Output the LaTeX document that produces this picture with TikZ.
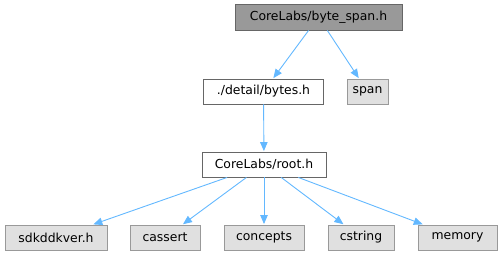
\documentclass[tikz,border=0pt]{standalone}
\usepackage{fontspec}
\setmainfont{DejaVu Sans}
\usetikzlibrary{arrows.meta}
\definecolor{edgeblue}{HTML}{63B8FF}
\definecolor{rootfill}{HTML}{999999}
\definecolor{boxborder}{HTML}{666666}
\definecolor{extfill}{HTML}{E0E0E0}
\definecolor{extborder}{HTML}{999999}
\tikzset{
  filebox/.style={draw=boxborder, line width=0.9pt, fill=white, inner sep=0pt,
    minimum height=25pt, font=\fontsize{12.4}{14}\selectfont, anchor=center},
  rootbox/.style={filebox, fill=rootfill},
  extbox/.style={filebox, draw=extborder, fill=extfill},
  incl/.style={draw=edgeblue, line width=0.9pt,
    -{Triangle[length=9pt,width=7.5pt]}, shorten >=0.5pt}
}
\begin{document}
\begin{tikzpicture}[x=1pt,y=-1pt]
  \useasboundingbox (0,0) rectangle (501,256);
  % top: the file whose includes are shown
  \node[rootbox, minimum width=167pt, minimum height=26pt] (bs) at (318.5,17) {CoreLabs/byte\_span.h};
  % second row
  \node[filebox, minimum width=120pt] (bytes) at (263.5,91.5) {./detail/bytes.h};
  \node[extbox, minimum width=41pt] (span) at (367.5,91.5) {span};
  % third row
  \node[filebox, minimum width=124pt] (root) at (264,164.5) {CoreLabs/root.h};
  % system headers
  \node[extbox, minimum width=102pt] (sdk) at (56,237.5) {sdkddkver.h};
  \node[extbox, minimum width=70pt] (cassert) at (165,237.5) {cassert};
  \node[extbox, minimum width=80pt] (concepts) at (264,237.5) {concepts};
  \node[extbox, minimum width=66pt] (cstring) at (361,237.5) {cstring};
  \node[extbox, minimum width=79pt] (memory) at (457.5,237.5) {memory};
  % include edges
  \draw[incl] (bs) -- (bytes);
  \draw[incl] (bs) -- (span);
  \draw[incl] (bytes) -- (root);
  \draw[incl] (root) -- (sdk);
  \draw[incl] (root) -- (cassert);
  \draw[incl] (root) -- (concepts);
  \draw[incl] (root) -- (cstring);
  \draw[incl] (root) -- (memory);
\end{tikzpicture}
\end{document}
